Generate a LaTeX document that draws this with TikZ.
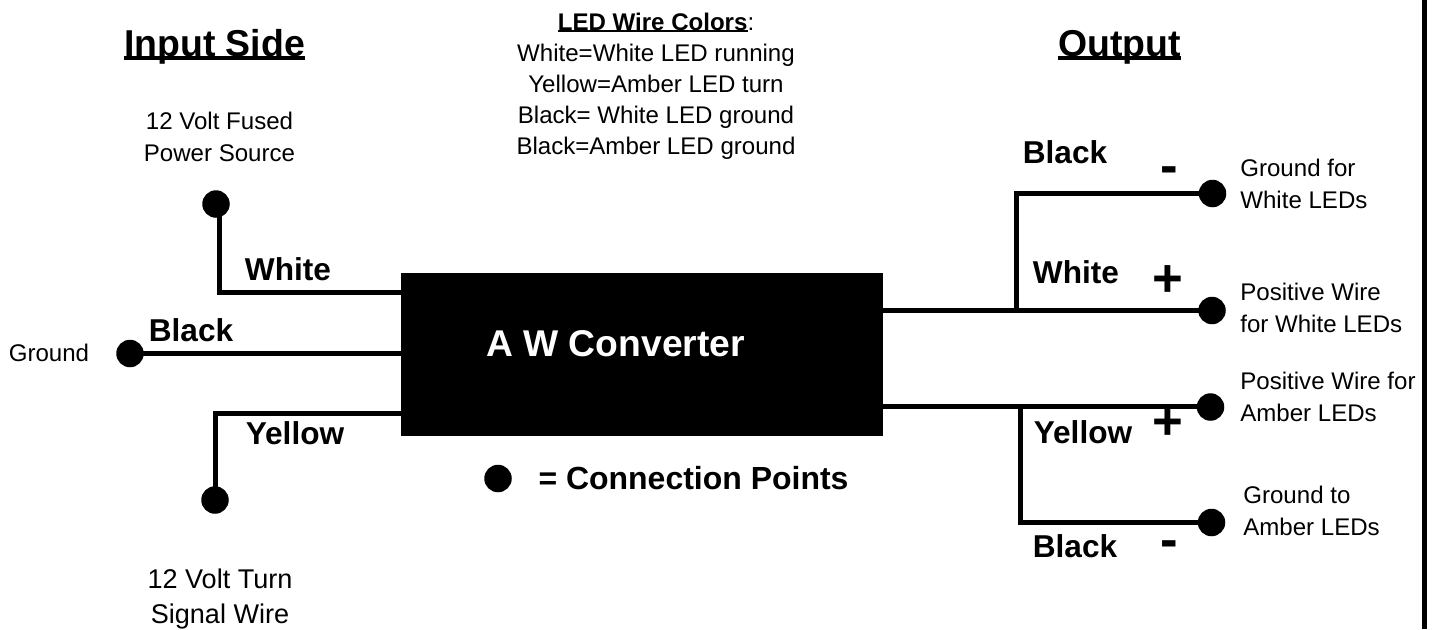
\documentclass[tikz,border=0pt]{standalone}
\usepackage{fontspec}
\setmainfont{Liberation Sans}
\usepackage{tikz}

\newcommand{\thickul}[2]{\setbox0=\hbox{#2}\rlap{\rule[-#1]{\wd0}{#1}}\box0}

\tikzset{
    wire/.style={line width=2.85pt,black},
    conn/.style={circle,fill=black,inner sep=0pt,minimum size=0.55cm},
    small/.style={font=\fontsize{13.7}{18.6}\selectfont,align=center,inner sep=0pt},
    smallleft/.style={small,align=left,anchor=west},
    heading/.style={font=\fontsize{21.3}{24}\bfseries\selectfont,inner sep=0pt,anchor=base},
    wirename/.style={font=\fontsize{18}{20}\bfseries\selectfont,inner sep=0pt},
    polarity/.style={font=\fontsize{30}{32}\bfseries\selectfont,inner sep=0pt},
}

\begin{document}
\begin{tikzpicture}[x=0.02cm,y=-0.02cm]
    \useasboundingbox (0,0) rectangle (1432,629);

    % Converter box:
    \node (conv) [fill=black,inner sep=0pt,minimum width=9.64cm,minimum height=3.26cm] at (642,354.5) {};
    \node (convtext) [font=\fontsize{21.2}{24}\bfseries\selectfont,white,inner sep=0pt] at (615.5,344) {A W Converter};

    % Connection points:
    \node (power) [conn] at (216,204) {};
    \node (ground) [conn] at (130,353.5) {};
    \node (turn) [conn] at (215,500) {};
    \node (whiteneg) [conn] at (1212.5,193.5) {};
    \node (whitepos) [conn] at (1212,310.5) {};
    \node (amberpos) [conn] at (1210.5,407) {};
    \node (amberneg) [conn] at (1211.5,522.5) {};
    \node (legend) [conn] at (498,478.5) {};

    % Input wires:
    \coordinate (inwhite) at (conv.west |- 0,292);
    \coordinate (inblack) at (conv.west |- ground);
    \coordinate (inyellow) at (conv.west |- 0,413);
    \draw[wire] ([xshift=2]power.center) -- ([xshift=2]power.center |- inwhite) -- (inwhite);
    \draw[wire] (ground.center) -- (inblack);
    \draw[wire] (turn.center) -- (turn.center |- inyellow) -- (inyellow);

    % Output wires:
    \coordinate (outwhite) at (conv.east |- whitepos);
    \coordinate (outamber) at (conv.east |- 0,406);
    \coordinate (splitwhite) at (1016.5,310.5);
    \coordinate (splitamber) at (1020,406);
    \draw[wire] (outwhite) -- (whitepos.center);
    \draw[wire] (splitwhite) -- (splitwhite |- whiteneg) -- (whiteneg.center);
    \draw[wire] (outamber) -- (amberpos.center |- outamber);
    \draw[wire] (splitamber) -- (splitamber |- amberneg) -- (amberneg.center);

    % Frame line on the right:
    \coordinate (frametop) at (1424,0);
    \coordinate (framebot) at (1424,629);
    \draw[wire] (frametop) -- (framebot);

    % Headings:
    \node (inhead) [heading] at (214.5,56) {\thickul{2pt}{Input Side}};
    \node (outhead) [heading] at (1119.5,56) {\thickul{2pt}{Output}};
    \node (ledcolors) [small,font=\fontsize{13.7}{17.7}\selectfont] at (656,86) {\textbf{\thickul{1.2pt}{LED Wire Colors}}:\\White=White LED running\\Yellow=Amber LED turn\\Black= White LED ground\\Black=Amber LED ground};
    \node (legendtext) [font=\fontsize{18.2}{20}\bfseries\selectfont,inner sep=0pt] at (693.5,478) {= Connection Points};

    % Wire colors:
    \node (lwhite) [wirename] at (288,269) {White};
    \node (lblack) [wirename] at (191,330) {Black};
    \node (lyellow) [wirename] at (295,433) {Yellow};
    \node (rblack) [wirename] at (1065,152) {Black};
    \node (rwhite) [wirename] at (1076,272) {White};
    \node (ryellow) [wirename] at (1083,432) {Yellow};
    \node (rblackb) [wirename] at (1075,546) {Black};

    % Polarity:
    \node (minusa) [polarity] at (1169,175) {-};
    \node (plusa) [polarity] at (1168,281) {+};
    \node (plusb) [polarity] at (1168,424) {+};
    \node (minusb) [polarity] at (1169,549) {-};

    % Wire functions:
    \node (tpower) [small] at (219.5,137) {12 Volt Fused\\Power Source};
    \node (tground) [small] at (49,353) {Ground};
    \node (tturn) [small,font=\fontsize{15.4}{20}\selectfont] at (220,599) {12 Volt Turn\\Signal Wire};
    \node (twneg) [smallleft] at (1240,184) {Ground for\\White LEDs};
    \node (twpos) [smallleft] at (1240,308) {Positive Wire\\for White LEDs};
    \node (tapos) [smallleft] at (1240,397) {Positive Wire for\\Amber LEDs};
    \node (taneg) [smallleft] at (1243,511) {Ground to\\Amber LEDs};
\end{tikzpicture}
\end{document}
